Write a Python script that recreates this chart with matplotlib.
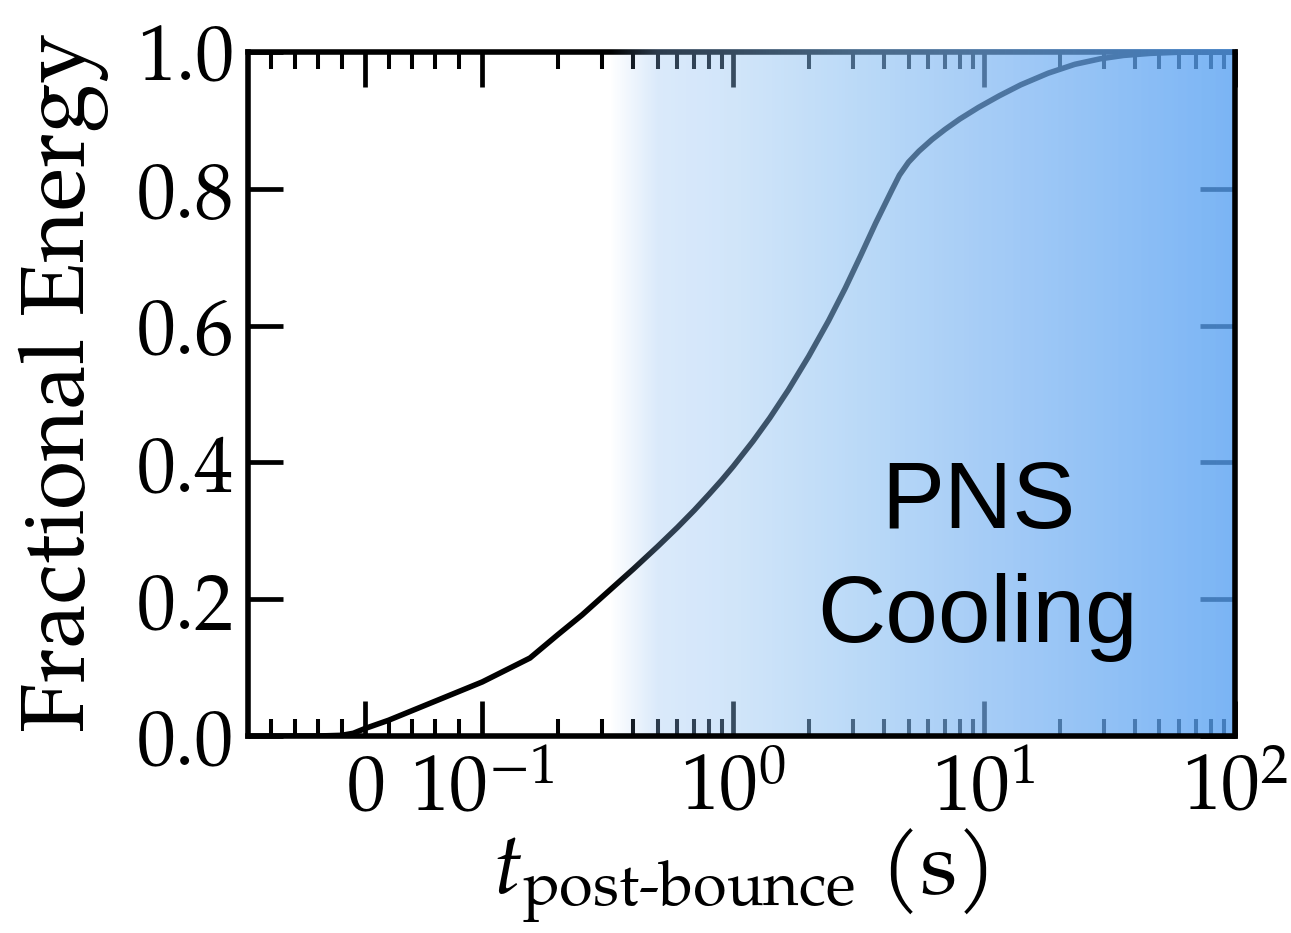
import numpy as np
import matplotlib
matplotlib.use("Agg")
import matplotlib.pyplot as plt
from matplotlib import font_manager as fm
from matplotlib.ticker import FixedLocator, FixedFormatter

# ---------------- data ----------------
t_post_bounce = [-0.1, -0.04, -0.02, -0.01, 0.0, 0.02, 0.04, 0.06, 0.08, 0.1,
                 0.155, 0.2, 0.25, 0.3, 0.4, 0.5, 0.6, 0.7, 0.8, 0.9, 1.0, 1.2,
                 1.4, 1.66, 2.0, 2.4, 2.8, 3.22, 3.7, 4.29, 4.6, 5.0, 5.5, 6.2,
                 7.0, 8.0, 9.5, 11.5, 14.0, 18.0, 23.0, 29.0, 36.0, 46.0, 60.0, 100.0]
fractional_energy = [0.0, 0.0, 0.001, 0.004, 0.011, 0.023, 0.037, 0.051, 0.065, 0.079,
                     0.114, 0.148, 0.177, 0.203, 0.244, 0.277, 0.305, 0.330, 0.353, 0.374,
                     0.394, 0.431, 0.465, 0.506, 0.555, 0.607, 0.655, 0.702, 0.750, 0.798,
                     0.820, 0.839, 0.855, 0.872, 0.887, 0.902, 0.919, 0.936, 0.952, 0.969,
                     0.982, 0.990, 0.995, 0.998, 0.9997, 1.0]

x_major_ticks = [0, 0.1, 1, 10, 100]
x_major_labels = ["$0$", "$10^{-1}$", "$10^{0}$", "$10^{1}$", "$10^{2}$"]
y_ticks = [0.0, 0.2, 0.4, 0.6, 0.8, 1.0]
y_labels = ["0.0", "0.2", "0.4", "0.6", "0.8", "1.0"]
region_label = ["PNS", "Cooling"]

# ---------------- fonts ----------------
names = {f.name for f in fm.fontManager.ttflist}
serif = next((n for n in ["TeX Gyre Pagella", "P052", "Palatino", "Palatino Linotype",
                          "URW Palladio L", "Liberation Serif", "DejaVu Serif"] if n in names),
             "DejaVu Serif")
sans = next((n for n in ["Liberation Sans", "Noto Sans", "DejaVu Sans"] if n in names), "DejaVu Sans")

plt.rcParams["font.family"] = serif
plt.rcParams["mathtext.fontset"] = "custom"
plt.rcParams["mathtext.rm"] = serif
plt.rcParams["mathtext.it"] = serif + ":italic"
plt.rcParams["mathtext.bf"] = serif + ":bold"

fig = plt.figure(figsize=(12.91, 9.33), dpi=100)
ax = fig.add_axes([248 / 1291, 1 - 736 / 933, 987 / 1291, 684 / 933])

ax.set_xscale("symlog", linthresh=0.1, linscale=0.42)
ax.plot(t_post_bounce, fractional_energy, color="black", lw=4.0, zorder=2,
        solid_capstyle="butt", solid_joinstyle="round")

ax.set_xlim(-0.1, 100)
ax.set_ylim(0, 1)

# ticks
minor = [-0.08, -0.06, -0.04, -0.02, 0.02, 0.04, 0.06, 0.08]
for dec in [0.1, 1, 10]:
    minor += [k * dec for k in range(2, 10)]
ax.xaxis.set_major_locator(FixedLocator(x_major_ticks))
ax.xaxis.set_major_formatter(FixedFormatter(x_major_labels))
ax.xaxis.set_minor_locator(FixedLocator(minor))
ax.yaxis.set_major_locator(FixedLocator(y_ticks))
ax.yaxis.set_major_formatter(FixedFormatter(y_labels))
ax.yaxis.set_minor_locator(FixedLocator([]))

ax.tick_params(which="both", direction="in", top=True, right=True, color="black")
ax.tick_params(which="major", length=25, width=3.4, labelsize=56, pad=10)
ax.tick_params(which="minor", length=12, width=2.9)
ax.tick_params(axis="x", which="major", pad=12)

for s in ax.spines.values():
    s.set_linewidth(4.0)
    s.set_zorder(2.6)
ax.spines["top"].set_zorder(2.1)

# gradient overlay (PNS cooling phase)
fx = np.linspace(0, 1, 800)
pos = [(p - 248) / 987 for p in [610, 658, 735, 860, 985, 1235]]
alph = [0.0, 0.32, 0.40, 0.56, 0.66, 0.79]
cr = [0.55, 0.55, 0.55, 0.52, 0.47, 0.34]
cg = [0.74, 0.74, 0.75, 0.74, 0.70, 0.63]
cb = [0.95, 0.95, 0.95, 0.95, 0.95, 0.95]
rgba = np.zeros((2, fx.size, 4))
rgba[:, :, 0] = np.interp(fx, pos, cr)
rgba[:, :, 1] = np.interp(fx, pos, cg)
rgba[:, :, 2] = np.interp(fx, pos, cb)
rgba[:, :, 3] = np.interp(fx, pos, alph)
ax.imshow(rgba, extent=[0, 1, 0, 1.004], transform=ax.transAxes, aspect="auto",
          zorder=2.2, clip_on=False, interpolation="bilinear")
ax.set_xlim(-0.1, 100)
ax.set_ylim(0, 1)

ax.text(0.7396, 0.304, region_label[0], transform=ax.transAxes, ha="center",
        va="baseline", fontsize=68, family=sans, zorder=3)
ax.text(0.7396, 0.137, region_label[1], transform=ax.transAxes, ha="center",
        va="baseline", fontsize=68, family=sans, zorder=3)

fig.text(64 / 1291, 1 - 383 / 933, "Fractional Energy", rotation=90,
         ha="center", va="center", fontsize=64)
fig.text(740 / 1291, 1 - 893 / 933, r"$t_{\mathrm{post\text{-}bounce}}$ (s)",
         ha="center", va="baseline", fontsize=63)

fig.savefig("out.png", dpi=100)
